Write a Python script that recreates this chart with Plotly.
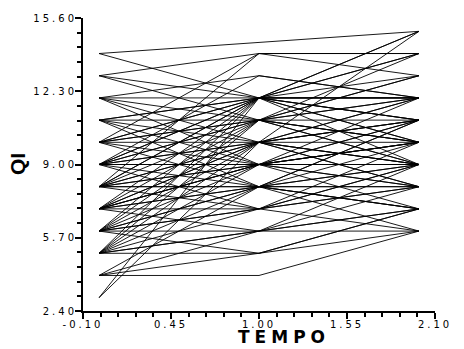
import plotly.graph_objects as go

# Measurement times
tempo = [0, 1, 2]

# QI score of each subject at the three times (None = not measured)
qi_t0 = [14, 14, 13, 13, 12, 12, 12, 12, 12, 11, 11, 11, 11, 11, 11,
         10, 10, 10, 10, 10, 10, 10, 9, 9, 9, 9, 9, 9, 9, 9, 9, 9,
         8, 8, 8, 8, 8, 8, 8, 8, 8, 8, 7, 7, 7, 7, 7, 7, 7, 7, 7, 7,
         6, 6, 6, 6, 6, 6, 6, 6, 6, 5, 5, 5, 5, 5, 5, 5, 5,
         4, 4, 4, 4, 3, 3, 8, 9, 13, 6, 5, 10, 7]
qi_t1 = [None, 12, 12, 11, 12, 11, 10, 13, 9, 12, 10, 11, 9, 8, 12,
         11, 12, 9, 10, 8, 11, 14, 10, 12, 9, 11, 8, 10, 12, 7, 11, 9,
         9, 11, 10, 8, 12, 7, 9, 10, 14, 8, 8, 9, 10, 7, 11, 8, 12, 6, 9, 10,
         7, 8, 9, 6, 10, 7, 11, 8, 12, 6, 7, 8, 5, 9, 6, 10, 12,
         5, 6, 4, 8, 12, 10, 12, 13, 14, 5, 11, 12, 9]
qi_t2 = [15, 11, 13, 12, 12, 10, 9, 12, 11, 14, 11, 9, 10, 8, 12,
         10, 11, 8, 12, 9, 13, 14, 11, 12, 10, 9, 7, 8, 10, 9, 14, 12,
         9, 11, 12, 8, 10, 10, 7, 9, 13, 11, 9, 11, 10, 8, 12, 6, 9, 7, 8, 15,
         8, 10, 9, 7, 11, 6, 10, 7, 12, 8, 9, 7, 6, 10, 6, 8, 14,
         7, 9, 6, 11, 15, 9, 15, 12, 14, 7, 13, 11, 10]

# Labelled ticks; four minor ticks sit between neighbouring labels
x_ticks = [-0.10, 0.45, 1.00, 1.55, 2.10]
y_ticks = [2.40, 5.70, 9.00, 12.30, 15.60]

W, H = 464, 349
M_L, M_R, M_T, M_B = 83, 18, 16, 38

SPACED = '<span style="letter-spacing:3px">{}</span>'


def minor_between(major):
    vals = []
    for lo, hi in zip(major[:-1], major[1:]):
        step = (hi - lo) / 5
        vals += [round(lo + k * step, 4) for k in range(1, 5)]
    return vals


# Subject trajectories, one polyline each
xs, ys = [], []
for a, b, c in zip(qi_t0, qi_t1, qi_t2):
    for t, v in zip(tempo, (a, b, c)):
        if v is not None:
            xs.append(t)
            ys.append(v)
    xs.append(None)
    ys.append(None)

fig = go.Figure(go.Scatter(
    x=xs, y=ys, mode="lines",
    line=dict(color="black", width=0.9),
    hoverinfo="skip", showlegend=False,
))

tick_font = dict(family="DejaVu Sans", size=10, color="black")


def axis_style(major):
    return dict(
        range=[major[0], major[-1]],
        tickmode="array", tickvals=major,
        ticktext=[SPACED.format(f"{v:.2f}") for v in major],
        showgrid=False, zeroline=False,
        showline=True, linecolor="black", linewidth=2,
        ticks="outside", ticklen=6, tickwidth=2, tickcolor="black",
        tickfont=tick_font,
        minor=dict(tickmode="array", tickvals=minor_between(major),
                   ticks="outside", ticklen=4, tickwidth=2,
                   tickcolor="black", showgrid=False),
    )


fig.update_xaxes(ticklabelstandoff=-3, **axis_style(x_ticks))
fig.update_yaxes(ticklabelstandoff=-4, **axis_style(y_ticks))

plot_w = W - M_L - M_R
fig.add_annotation(
    text='<b><span style="letter-spacing:5px">TEMPO</span></b>',
    xref="paper", yref="paper",
    x=(290 - M_L) / plot_w, y=0, yshift=-M_B, yanchor="bottom",
    showarrow=False,
    font=dict(family="DejaVu Sans", size=17, color="black"),
)
fig.add_annotation(
    text="<b>QI</b>", xref="paper", yref="paper",
    x=0, xanchor="center", xshift=17.5 - M_L, y=0.5, yanchor="middle",
    textangle=-90, showarrow=False,
    font=dict(family="Liberation Sans", size=21, color="black"),
)

fig.update_layout(
    width=W, height=H,
    margin=dict(l=M_L, r=M_R, t=M_T, b=M_B),
    paper_bgcolor="white", plot_bgcolor="white",
)

fig.write_html("out.html")
